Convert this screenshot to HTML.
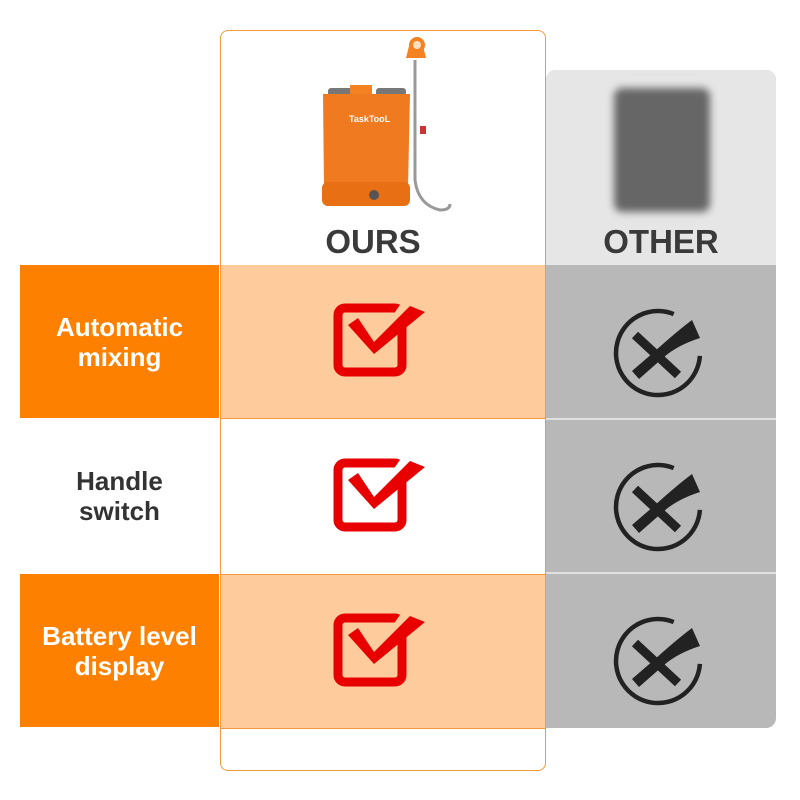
<!DOCTYPE html>
<html><head><meta charset="utf-8"><style>
body{margin:0;width:800px;height:800px;background:#fff;position:relative;overflow:hidden;font-family:"Liberation Sans",sans-serif}
.a{position:absolute}
.lab{position:absolute;left:20px;width:199px;display:flex;align-items:center;justify-content:center;text-align:center;font-weight:bold;font-size:26px;line-height:30px}
</style></head><body>
<div class="a" style="left:546px;top:70px;width:230px;height:658px;background:#b8b8b8;border-radius:10px 10px 10px 0"></div>
<div class="a" style="left:546px;top:70px;width:230px;height:195px;background:#e6e6e6;border-radius:10px 10px 0 0"></div>
<div class="a" style="left:546px;top:418px;width:230px;height:2px;background:#e0e0e0"></div>
<div class="a" style="left:546px;top:572px;width:230px;height:2px;background:#e0e0e0"></div>
<div class="lab" style="top:265px;height:153px;background:#fd8000;color:#fff">Automatic<br>mixing</div>
<div class="lab" style="top:420px;height:152px;background:#fff;color:#333">Handle<br>switch</div>
<div class="lab" style="top:574px;height:153px;background:#fd8000;color:#fff">Battery level<br>display</div>
<div class="a" style="left:220px;top:265px;width:326px;height:153px;background:#fecc9c;border-bottom:1px solid #f59a3c"></div>
<div class="a" style="left:220px;top:574px;width:326px;height:153px;background:#fecc9c;border-top:1px solid #f59a3c;border-bottom:1px solid #f59a3c"></div>
<div class="a" style="left:220px;top:30px;width:324px;height:739px;border:1px solid #f39a3a;border-radius:8px"></div>
<div class="a" style="left:220px;top:223px;width:306px;text-align:center;font-weight:bold;font-size:33px;color:#3a3a3a;padding-right:20px">OURS</div>
<div class="a" style="left:546px;top:223px;width:230px;text-align:center;font-weight:bold;font-size:33px;color:#3a3a3a">OTHER</div>
<div class="a" style="left:614px;top:88px;width:96px;height:124px;background:#666;border-radius:8px;filter:blur(4px)"></div>
<svg class="a" style="left:300px;top:30px" width="180" height="190" viewBox="0 0 180 190">
<path d="M115 30 L115 150 Q118 175 140 180 Q150 180 150 174" stroke="#999" stroke-width="3" fill="none"/>
<path d="M110 12 l12 0 l4 16 l-20 0z" fill="#f58220"/>
<circle cx="117" cy="15" r="8" fill="#f58220"/>
<circle cx="117" cy="15" r="4" fill="#fde0c0"/>
<rect x="76" y="58" width="30" height="8" rx="3" fill="#777"/>
<rect x="28" y="58" width="24" height="8" rx="3" fill="#777"/>
<path d="M23 64 L110 64 L108 158 Q106 176 92 176 L40 176 Q25 176 24 158Z" fill="#f07a20"/>
<rect x="50" y="55" width="22" height="9" fill="#f58220"/>
<rect x="22" y="152" width="88" height="24" rx="6" fill="#e86f14"/>
<circle cx="74" cy="165" r="5" fill="#555"/>
<text x="49" y="92" font-size="9" font-weight="bold" fill="#fff" font-family="Liberation Sans">TaskTooL</text>
<rect x="120" y="96" width="6" height="8" fill="#c33"/>
</svg>
<svg class="a" style="left:330px;top:300px" width="100" height="85"><rect x="8" y="8" width="64" height="64" rx="7" fill="none" stroke="#e80000" stroke-width="9"/><path d="M21 27 L44 52 L95 10 L72 2 L44 42 L30 20Z" fill="#fecc9c"/><path d="M18 25 L44 54 L95 12 L80 6 L44 42 L28 18Z" fill="#e80000"/></svg>
<svg class="a" style="left:330px;top:455px" width="100" height="85"><rect x="8" y="8" width="64" height="64" rx="7" fill="none" stroke="#e80000" stroke-width="9"/><path d="M21 27 L44 52 L95 10 L72 2 L44 42 L30 20Z" fill="#fff"/><path d="M18 25 L44 54 L95 12 L80 6 L44 42 L28 18Z" fill="#e80000"/></svg>
<svg class="a" style="left:330px;top:610px" width="100" height="85"><rect x="8" y="8" width="64" height="64" rx="7" fill="none" stroke="#e80000" stroke-width="9"/><path d="M21 27 L44 52 L95 10 L72 2 L44 42 L30 20Z" fill="#fecc9c"/><path d="M18 25 L44 54 L95 12 L80 6 L44 42 L28 18Z" fill="#e80000"/></svg>
<svg class="a" style="left:608px;top:300px" width="110" height="110"><path d="M65.7 14.1 A42 42 0 1 0 91.9 55.9" fill="none" stroke="#222" stroke-width="4.5"/><path d="M27 35 L70 75" stroke="#222" stroke-width="9"/><path d="M24 71 L31 79 L56 57 Q70 45 92 38 L84 20 Q68 32 46 52Z" fill="#222"/></svg>
<svg class="a" style="left:608px;top:454px" width="110" height="110"><path d="M65.7 14.1 A42 42 0 1 0 91.9 55.9" fill="none" stroke="#222" stroke-width="4.5"/><path d="M27 35 L70 75" stroke="#222" stroke-width="9"/><path d="M24 71 L31 79 L56 57 Q70 45 92 38 L84 20 Q68 32 46 52Z" fill="#222"/></svg>
<svg class="a" style="left:608px;top:608px" width="110" height="110"><path d="M65.7 14.1 A42 42 0 1 0 91.9 55.9" fill="none" stroke="#222" stroke-width="4.5"/><path d="M27 35 L70 75" stroke="#222" stroke-width="9"/><path d="M24 71 L31 79 L56 57 Q70 45 92 38 L84 20 Q68 32 46 52Z" fill="#222"/></svg>
</body></html>
